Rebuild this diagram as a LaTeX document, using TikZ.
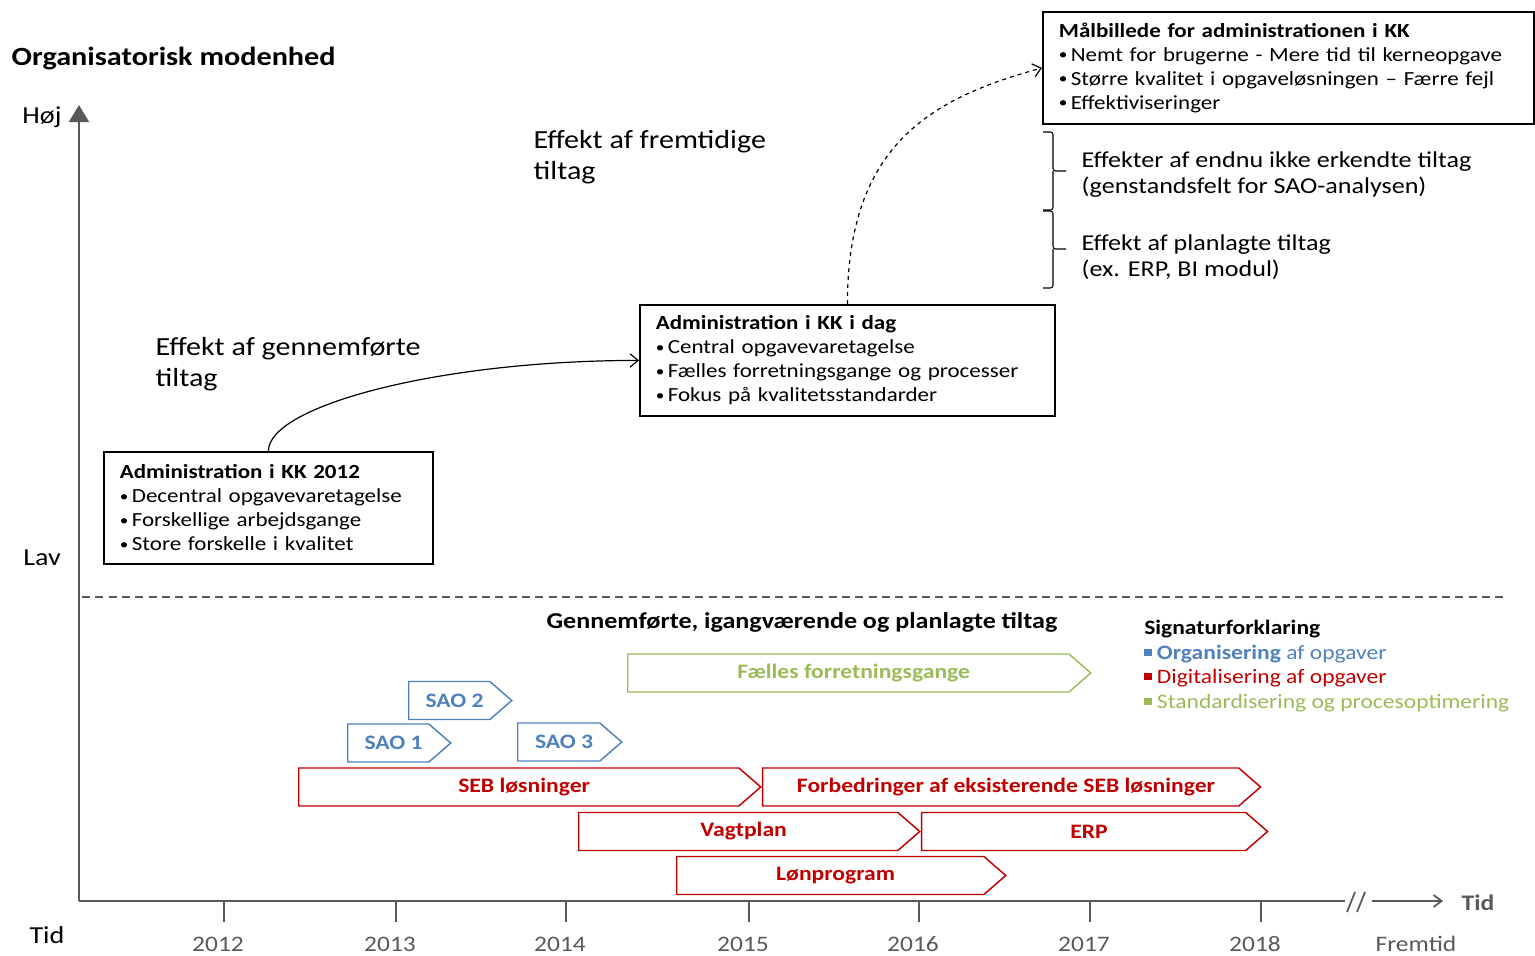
\documentclass[tikz,border=0pt]{standalone}
\usepackage{fontspec}
\setmainfont{Carlito}[FakeStretch=1.15]
\usetikzlibrary{arrows.meta,positioning,shapes.symbols}
\definecolor{axisgrey}{HTML}{595959}
\definecolor{saoblue}{HTML}{4F81BD}
\definecolor{digired}{HTML}{C00000}
\definecolor{stdgreen}{HTML}{9BBB59}
\newcommand\legsq[1]{\textcolor{#1}{\rule[0.16em]{0.36em}{0.36em}}}
\newcommand\bul{\raisebox{0.08em}{\scalebox{0.75}{•}}\,}

\begin{document}
\begin{tikzpicture}[x=0.75pt,y=-0.75pt,
  statebox/.style={draw,line width=1.4pt,rectangle,anchor=north west,align=left,inner xsep=12pt,font={\fontsize{15}{18}\selectfont}},
  phase/.style={signal,signal to=east,signal pointer angle=82,draw,line width=1.1pt,minimum height=28.5pt,inner sep=0pt,anchor=west,
    execute at begin node={\hspace*{8pt}},font={\bfseries\fontsize{15.4}{17}\selectfont}},
  sao/.style={phase,draw=saoblue,text=saoblue,minimum width=77.25pt},
  digi/.style={phase,draw=digired,text=digired},
  axis/.style={draw=axisgrey,line width=1.3pt},
  yearlbl/.style={text=axisgrey,font={\fontsize{16.6}{20}\selectfont}},
  biglbl/.style={anchor=west,align=left,font={\fontsize{19.6}{23.25}\selectfont}},
  sidelbl/.style={anchor=west,align=left,font={\fontsize{17}{19.5}\selectfont}},
  levellbl/.style={font={\fontsize{18.3}{22}\selectfont}}
]
\useasboundingbox (0,0) rectangle (1535,956);

% axes
\coordinate (o) at (79,901);
\coordinate (ytip) at (79,105);
\coordinate (xbreak) at (1345,901);
\coordinate (xresume) at (1372,901);
\coordinate (xtip) at (1443,901);
\draw[axis,-{Triangle[length=12.75pt,width=15pt]}] (o) -- (ytip);
\draw[axis] (o) -- (xbreak);
\draw[axis] (1347,912) -- (1355,892) (1357,912) -- (1365,892);
\draw[axis,-{Straight Barb[length=6pt,width=9pt]}] (xresume) -- (xtip);
\foreach \tx/\yr in {224/2012,396/2013,566/2014,749/2015,919/2016,1090/2017,1261/2018}{
  \draw[axis] (\tx,902) -- (\tx,922);
  \node[yearlbl] (y\yr) at (\tx-6,944) {\yr};
}
\node[yearlbl] (yfrem) at (1416,944) {Fremtid};
\node[text=axisgrey,font={\bfseries\fontsize{16.7}{18}\selectfont},anchor=west] (tidx) at (1457,903) {Tid};

\node[levellbl] (hoej) at (42,117) {Høj};
\node[levellbl] (lav) at (42,558) {Lav};
\node[levellbl] (tidy) at (47,935) {Tid};
\node[anchor=west,font={\bfseries\fontsize{19.7}{22}\selectfont}] (title) at (7,59) {Organisatorisk modenhed};

% states
\node[statebox,minimum width=246.75pt,minimum height=84pt,text width=222.75pt] (b2012) at (103,451)
  {\textbf{Administration i KK 2012}\\\bul Decentral opgavevaretagelse\\\bul Forskellige arbejdsgange\\\bul Store forskelle i kvalitet};
\node[statebox,minimum width=311.25pt,minimum height=83.25pt,text width=287.25pt] (bdag) at (639,304)
  {\textbf{Administration i KK i dag}\\\bul Central opgavevaretagelse\\\bul Fælles forretningsgange og processer\\\bul Fokus på kvalitetsstandarder};
\node[statebox,minimum width=368.25pt,minimum height=84pt,text width=344.25pt] (bmaal) at (1042,11)
  {\textbf{Målbillede for administrationen i KK}\\\bul Nemt for brugerne - Mere tid til kerneopgave\\\bul Større kvalitet i opgaveløsningen – Færre fejl\\\bul Effektiviseringer};

\draw[line width=0.9pt,-{Straight Barb[length=6pt,width=10pt]}] (b2012.north) .. controls +(0,-45) and +(-200,0) .. (bdag.west);
\draw[line width=0.9pt,dashed,-{Straight Barb[length=6pt,width=10pt]}] (bdag.north) .. controls +(0,-160) and +(-110,30) .. (bmaal.west);

\node[biglbl] (lblpast) at (151,364.5) {Effekt af gennemførte\\tiltag};
\node[biglbl] (lblfuture) at (529,157.5) {Effekt af fremtidige\\tiltag};

% braces
\draw[line width=0.8pt,rounded corners=2pt] (1043,132) -- (1053,132) -- (1053,171) -- (1066,171) (1053,171) -- (1053,210) -- (1043,210);
\draw[line width=0.8pt,rounded corners=2pt] (1043,211) -- (1053,211) -- (1053,249) -- (1066,249) (1053,249) -- (1053,288) -- (1043,288);
\node[sidelbl] (lblunknown) at (1077,175) {Effekter af endnu ikke erkendte tiltag\\(genstandsfelt for SAO-analysen)};
\node[sidelbl] (lblplanned) at (1077,257) {Effekt af planlagte tiltag\\(ex. ERP, BI modul)};

\draw[axis,line width=1pt,dash pattern=on 6pt off 4pt] (82,597) -- (1505,597);

% initiatives
\node[font={\bfseries\fontsize{17}{18}\selectfont}] (hdr) at (802,622) {Gennemførte, igangværende og planlagte tiltag};
\node[anchor=north west,align=left,inner sep=0pt,font={\fontsize{15.35}{18.4}\selectfont}] (legend) at (1144,620)
  {\textbf{Signaturforklaring}\\
   \legsq{saoblue} \textcolor{saoblue}{\textbf{Organisering} af opgaver}\\
   \legsq{digired} \textcolor{digired}{Digitalisering af opgaver}\\
   \legsq{stdgreen} \textcolor{stdgreen}{Standardisering og procesoptimering}};

\node[phase,draw=stdgreen,text=stdgreen,minimum width=347.25pt] (faelles) at (627,673) {Fælles forretningsgange};
\node[sao] (sao2) at (408,700.5) {SAO 2};
\node[sao] (sao1) at (347,743) {SAO 1};
\node[sao,minimum width=78pt] (sao3) at (517,742) {SAO 3};
\node[digi,minimum width=346.5pt] (seb) at (298,787) {SEB løsninger};
\node[digi,minimum width=373.5pt,right=0pt of seb] (forb) {Forbedringer af eksisterende SEB løsninger};
\node[digi,minimum width=255.75pt] (vagt) at (578,831.5) {Vagtplan};
\node[digi,minimum width=259.5pt,right=0pt of vagt] (erp) {ERP};
\node[digi,minimum width=246.75pt] (loen) at (676,875.5) {Lønprogram};
\end{tikzpicture}
\end{document}
